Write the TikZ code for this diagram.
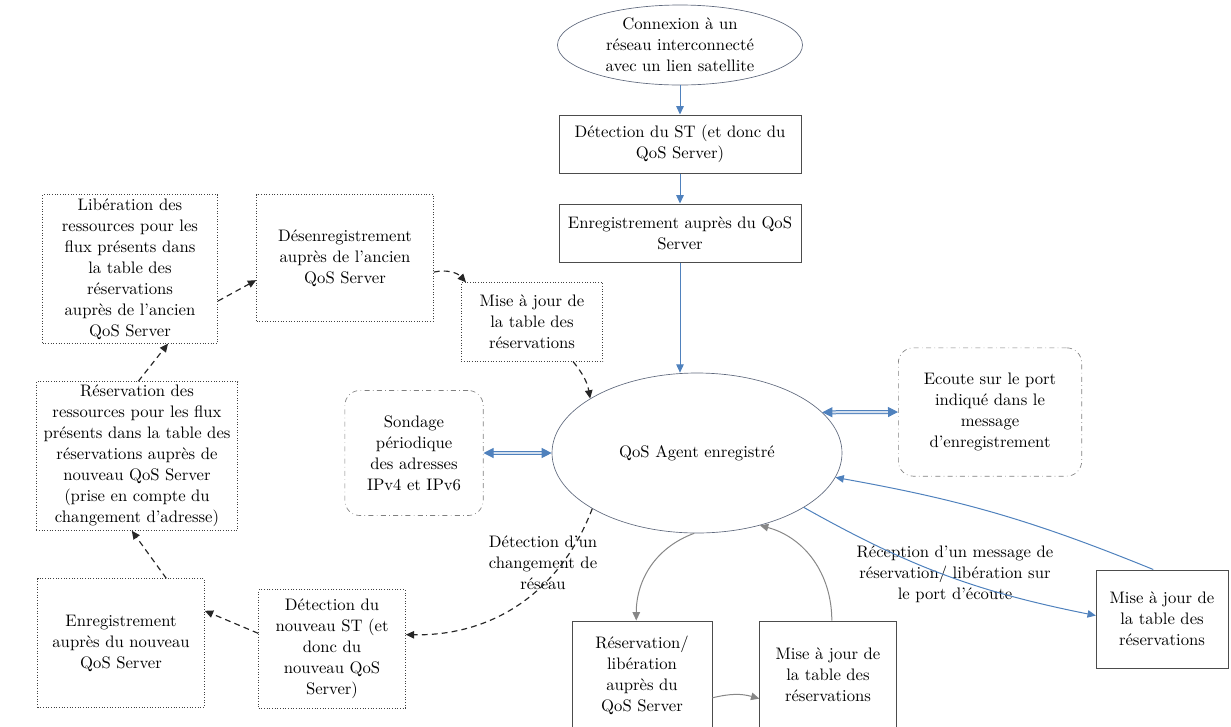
\documentclass[tikz,border=0pt]{standalone}
\usepackage{amsmath,amssymb}
\usepackage{tikz}
\usetikzlibrary{arrows.meta,shapes.geometric,positioning}
\definecolor{flowblue}{RGB}{79,129,189}
\definecolor{arcgray}{RGB}{135,135,135}
\definecolor{rimgray}{RGB}{95,105,125}

\begin{document}
\begin{tikzpicture}[x=0.6pt, y=-0.6pt, >=Triangle,
	   font=\fontsize{10}{12.6}\selectfont,
	   b/.style={draw=black!70, align=center, inner sep=2pt},
	   dot/.style={draw=black!75, densely dotted, line width=0.6pt, align=center, inner sep=2pt},
	   rnd/.style={draw=gray, dash dot, rounded corners=9pt, align=center, inner sep=2pt},
	   ell/.style={ellipse, draw=rimgray, align=center, inner sep=0pt},
	   lbl/.style={align=center, inner sep=0pt},
	   dsh/.style={-{Triangle[length=5pt,width=4.5pt]}, draw=black!85, dash pattern=on 3.5pt off 2.5pt, line width=0.7pt},
	   blu/.style={-{Triangle[length=5pt,width=4.5pt]}, draw=flowblue, line width=0.6pt},
	   gry/.style={-{Triangle[length=5pt,width=4.5pt]}, draw=arcgray, line width=0.6pt},
	   dbl/.style={{Triangle[length=6pt,width=6pt]}-{Triangle[length=6pt,width=6pt]}, draw=flowblue, double=flowblue!25, double distance=1.2pt, line width=0.6pt}]
	  \useasboundingbox (0,0) rectangle (1231,726);
	  \node[ell, minimum width=147pt, minimum height=48pt] (conn) at (680,45) {Connexion à un\\réseau interconnecté\\avec un lien satellite};
	  \node[b, minimum width=145pt, minimum height=35pt] (det) at (680,144) {Détection du ST (et donc du\\QoS Server)};
	  \node[b, minimum width=145pt, minimum height=35pt] (enr) at (680,233) {Enregistrement auprès du QoS\\Server};
	  \node[ell, minimum width=174pt, minimum height=96pt] (agent) at (697,453) {QoS Agent enregistré};
	  \node[dot, minimum width=105pt, minimum height=89pt] (lib) at (130,269) {Libération des\\ressources pour les\\flux présents dans\\la table des\\réservations\\auprès de l'ancien\\QoS Server};
	  \node[dot, minimum width=106pt, minimum height=76pt] (desenr) at (345,258) {Désenregistrement\\auprès de l'ancien\\QoS Server};
	  \node[dot, minimum width=85pt, minimum height=47pt] (maj1) at (532,322) {Mise à jour de\\la table des\\réservations};
	  \node[rnd, minimum width=83pt, minimum height=75pt] (sond) at (414,453) {Sondage\\périodique\\des adresses\\IPv4 et IPv6};
	  \node[rnd, minimum width=110pt, minimum height=77pt] (ecoute) at (990,412) {Ecoute sur le port\\indiqué dans le\\message\\d'enregistrement};
	  \node[dot, minimum width=121pt, minimum height=89pt] (resa) at (137,456) {Réservation des\\ressources pour les flux\\présents dans la table des\\réservations auprès de\\nouveau QoS Server\\(prise en compte du\\changement d'adresse)};
	  \node[dot, minimum width=100pt, minimum height=77pt] (enrnouv) at (121,643) {Enregistrement\\auprès du nouveau\\QoS Server};
	  \node[dot, minimum width=88pt, minimum height=71pt] (detnouv) at (332,649) {Détection du\\nouveau ST (et\\donc du\\nouveau QoS\\Server)};
	  \node[b, minimum width=84pt, minimum height=65pt] (resalib) at (642,675) {Réservation/\\libération\\auprès du\\QoS Server};
	  \node[b, minimum width=82pt, minimum height=65pt] (maj2) at (828,675) {Mise à jour de\\la table des\\réservations};
	  \node[b, minimum width=79pt, minimum height=59pt] (maj3) at (1162,619) {Mise à jour de\\la table des\\réservations};
	  \node[lbl] (chg) at (543,563) {Détection d'un\\changement de\\réseau};
	  \node[lbl] (recep) at (955,574) {Réception d'un message de\\réservation/ libération sur\\le port d'écoute};
	  \draw[blu] (conn) -- (det);
	  \draw[blu] (det) -- (enr);
	  \draw[blu] (enr.south) -- (enr.south |- agent.north);
	  \draw[dbl] (sond.east) -- (agent.west);
	  \draw[dbl] (agent.18) -- (ecoute.west);
	  \draw[dsh] (lib.-20) -- (desenr.194);
	  \draw[dsh] (desenr.-9) to[bend left=30] (maj1.149);
	  \draw[dsh] (maj1.-44) to[bend left=15] (agent.153);
	  \draw[dsh] (agent.208) to[bend left=35] (detnouv.11);
	  \draw[dsh] (detnouv.168) -- (enrnouv.21);
	  \draw[dsh] (enrnouv.55) -- (resa.266);
	  \draw[dsh] (resa.89) -- (lib.-63);
	  \draw[gry] (agent.268) to[out=200,in=90] (resalib.96);
	  \draw[gry] (resalib.-18) to[bend left=15] (maj2.199);
	  \draw[gry] (maj2.86) to[out=90,in=-15] (agent.311);
	  \draw[blu] (agent.333) to[bend right=9] (maj3.177);
	  \draw[blu] (maj3.100) to[bend right=6] (agent.350);
	\end{tikzpicture}
\end{document}
